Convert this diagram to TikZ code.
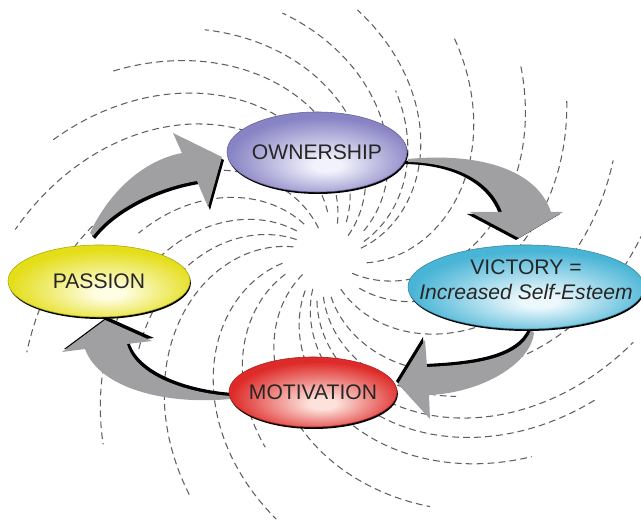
\documentclass[tikz,border=0pt]{standalone}
\usepackage{fontspec}
\setmainfont{Liberation Sans}
\usetikzlibrary{shapes.geometric,shadows}

\definecolor{ownout}{RGB}{136,131,196}
\definecolor{ownin}{RGB}{242,242,252}
\definecolor{vicout}{RGB}{72,180,214}
\definecolor{vicin}{RGB}{236,248,252}
\definecolor{pasout}{RGB}{228,222,24}
\definecolor{pasin}{RGB}{255,253,226}
\definecolor{motout}{RGB}{222,42,40}
\definecolor{motin}{RGB}{253,226,220}
\definecolor{arrowgray}{RGB}{160,160,162}
\definecolor{swirlgray}{RGB}{95,95,95}

\pgfdeclarelayer{background}
\pgfsetlayers{background,main}

% radial fill, light spot a bit low and to the right
\pgfdeclareradialshading[bubin,bubout]{bubble}{\pgfpoint{3bp}{-9bp}}{%
  color(0bp)=(bubin); color(4bp)=(bubin); color(26bp)=(bubout); color(50bp)=(bubout)}

\tikzset{
  bub/.style 2 args={ellipse, inner sep=0pt,
    /utils/exec={\colorlet{bubin}{#1}\colorlet{bubout}{#2}},
    shading=bubble, draw=#2!75!black, line width=0.4pt,
    drop shadow={shadow xshift=0.6pt, shadow yshift=-1.4pt, opacity=1, fill=black}},
  word/.style={font=\fontsize{15}{18}\selectfont, text=black!85, align=center},
  swirl/.style={draw=swirlgray, line width=0.75pt, dash pattern=on 4.8pt off 3pt},
  swoosh/.style={fill=arrowgray, preaction={fill=black, transform canvas={shift={#1}}}}
}

\begin{document}
\begin{tikzpicture}[x=0.025cm,y=0.025cm]
  \useasboundingbox (0,0) rectangle (641,525);

  % the four stages
  \node[bub={ownin}{ownout}, minimum width=4.5cm, minimum height=2cm,
        label={[word]center:OWNERSHIP}] (own) at (317,373) {};
  \node[bub={vicin}{vicout}, minimum width=5.9cm, minimum height=2.1cm,
        label={[word, yshift=5pt]center:{VICTORY =\\\textit{Increased Self-Esteem}}}] (vic) at (526,238) {};
  \node[bub={pasin}{pasout}, minimum width=4.55cm, minimum height=1.8cm,
        label={[word]center:PASSION}] (pas) at (99,244) {};
  \node[bub={motin}{motout}, minimum width=4.2cm, minimum height=1.75cm,
        label={[word]center:MOTIVATION}] (mot) at (313,133) {};

  \begin{pgfonlayer}{background}
    % swirl: start angle / inner radius / outer radius
    \foreach \a/\ra/\rb in {263/40/315, 282/35/302, 301.5/45/288, 317.5/30/274,
        338.8/40/255, 3.3/35/249, 10/40/180, 21/45/248, 35.7/30/258, 48.3/40/285,
        61.5/35/300, 74.8/45/313, 96.8/30/315, 112/40/190, 126.5/40/292,
        139/35/210, 152/35/275, 173.6/45/267, 188/45/200, 206/30/270,
        224.2/40/286, 234.7/35/305, 242.7/45/318, 252/40/190}
      \draw[swirl] plot[domain=\ra:\rb, samples=50]
        ({327+\x*cos(\a+0.32*\x)}, {268+\x*sin(\a+0.32*\x)});

    % passion -> ownership
    \fill[swoosh={(2,-3)}] (90,292) .. controls (110,335) and (145,365) .. (182,372)
      -- (173,392) -- (222,368) -- (208,318) -- (197,344)
      .. controls (160,338) and (115,318) .. (93,289) -- cycle;
    % ownership -> victory
    \fill[swoosh={(-3,-2)}] (408,366) .. controls (470,372) and (535,360) .. (551,313)
      -- (563,313) -- (519,287) -- (470,313) -- (502,313)
      .. controls (490,345) and (455,362) .. (408,363) -- cycle;
    % victory -> motivation
    \fill[swoosh={(-2,3)}] (531,195) .. controls (520,165) and (470,160) .. (427,158)
      -- (425,185) -- (398,141) -- (430,106) -- (429,130)
      .. controls (480,132) and (530,160) .. (534,192) -- cycle;
    % motivation -> passion
    \fill[swoosh={(2,3)}] (230,126) .. controls (170,120) and (100,135) .. (85,176)
      -- (62,173) -- (105,205) -- (152,184) -- (127,181)
      .. controls (135,150) and (185,132) .. (231,129) -- cycle;
  \end{pgfonlayer}
\end{tikzpicture}
\end{document}
